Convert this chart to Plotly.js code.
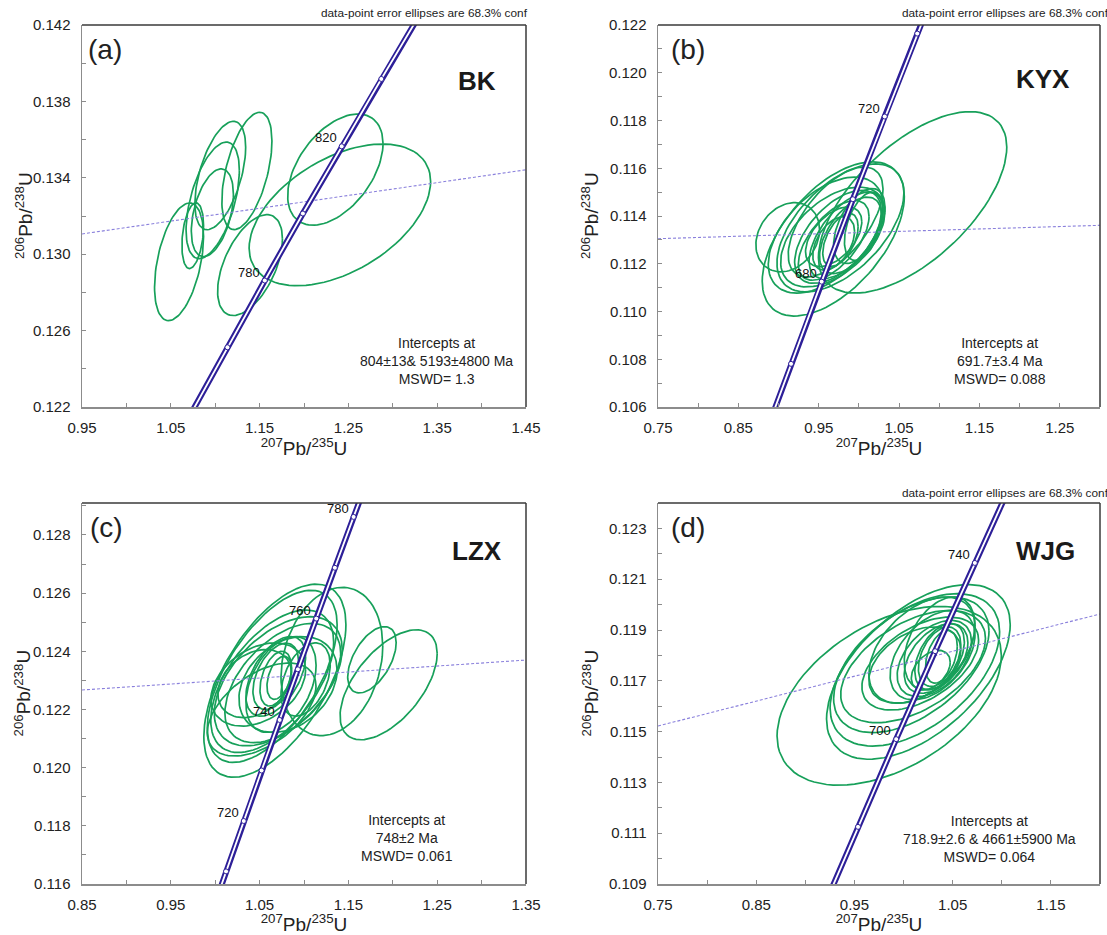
<!DOCTYPE html>
<html><head><meta charset="utf-8">
<script src="https://cdn.plot.ly/plotly-3.0.1.min.js"></script>
<style>html,body{margin:0;padding:0;background:#fff}#chart{width:1107px;height:935px}</style>
</head><body><div id="chart"></div><script>
// ---------- data ----------
// Panel (a) BK : error ellipses (centre, half-extent in x and y, correlation)
const aCX  = [1.0593, 1.0747, 1.0968, 1.0972, 1.1057, 1.1357, 1.1392, 1.2404, 1.2353];
const aCY  = [0.1296, 0.13097, 0.13217, 0.13282, 0.13412, 0.13436, 0.12943, 0.13206, 0.13443];
const aSX  = [0.0276, 0.0122, 0.0237, 0.0300, 0.0286, 0.0282, 0.0365, 0.1022, 0.0537];
const aSY  = [0.00308, 0.00172, 0.0023, 0.00305, 0.00284, 0.00307, 0.00264, 0.00371, 0.00291];
const aRho = [0.43, 0.30, 0.42, 0.51, 0.52, 0.51, 0.52, 0.47, 0.47];
// Panel (b) KYX
const bCX  = [1.0668, 0.9681, 0.9114, 0.977, 0.9587, 0.9675, 0.974, 0.984, 0.9895, 0.9686, 1.0005, 1.006, 0.9686, 0.9686, 0.971, 0.977];
const bCY  = [0.11457, 0.11304, 0.11311, 0.1135, 0.1132, 0.11312, 0.11313, 0.11319, 0.11319, 0.11298, 0.11358, 0.11357, 0.11313, 0.11285, 0.11375, 0.1130];
const bSX  = [0.1172, 0.0884, 0.0396, 0.079, 0.0715, 0.0649, 0.054, 0.046, 0.0385, 0.044, 0.032, 0.024, 0.035, 0.026, 0.059, 0.022];
const bSY  = [0.0038, 0.00323, 0.00145, 0.00268, 0.00243, 0.00209, 0.00195, 0.00181, 0.0016, 0.00167, 0.00157, 0.00143, 0.00125, 0.00112, 0.0023, 0.00111];
const bRho = [0.61, 0.55, 0.22, 0.55, 0.50, 0.50, 0.55, 0.60, 0.55, 0.60, 0.50, 0.45, 0.50, 0.45, 0.60, 0.50];
// Panel (c) LZX
const cCX  = [1.0672, 1.1314, 1.0642, 1.0642, 1.071, 1.0761, 1.0485, 1.0445, 1.0741, 1.0682, 1.0682, 1.0721, 1.0682, 1.082, 1.1018, 1.0523, 1.1765, 1.1953];
const cCY  = [0.12299, 0.12365, 0.12314, 0.12297, 0.12297, 0.12291, 0.12286, 0.12289, 0.12286, 0.12314, 0.12306, 0.12309, 0.12314, 0.12286, 0.12303, 0.1220, 0.12371, 0.12285];
const cSX  = [0.080, 0.0573, 0.0731, 0.0692, 0.072, 0.0652, 0.0533, 0.0415, 0.0395, 0.0257, 0.0178, 0.0138, 0.0336, 0.0553, 0.0277, 0.0612, 0.0273, 0.0547];
const cSY  = [0.00332, 0.00255, 0.00296, 0.00245, 0.00222, 0.00205, 0.00143, 0.00117, 0.00165, 0.00114, 0.00094, 0.00074, 0.00137, 0.00165, 0.00126, 0.0016, 0.00114, 0.00189];
const cRho = [0.58, 0.21, 0.60, 0.55, 0.50, 0.50, 0.35, 0.30, 0.40, 0.45, 0.40, 0.40, 0.50, 0.30, 0.40, 0.50, 0.52, 0.57];
// Panel (d) WJG
const dCX  = [0.9854, 1.0151, 1.0115, 1.0079, 1.0097, 1.017, 1.0187, 1.0295, 1.0313, 1.0331, 1.0367, 1.0367, 1.0385, 1.0367, 1.0115, 1.0277];
const dCY  = [0.11641, 0.11735, 0.11743, 0.11763, 0.11756, 0.11768, 0.11821, 0.11801, 0.11788, 0.11788, 0.11795, 0.11795, 0.11795, 0.11847, 0.11762, 0.11742];
const dSX  = [0.1142, 0.0935, 0.0863, 0.0791, 0.0737, 0.0594, 0.054, 0.0432, 0.0378, 0.0324, 0.0252, 0.0216, 0.0162, 0.036, 0.0468, 0.0198];
const dSY  = [0.00352, 0.00344, 0.0030, 0.00267, 0.00221, 0.00183, 0.00209, 0.00176, 0.0015, 0.00137, 0.0013, 0.00117, 0.00104, 0.00183, 0.0015, 0.00078];
const dRho = [0.45, 0.54, 0.50, 0.50, 0.50, 0.50, 0.45, 0.45, 0.45, 0.45, 0.45, 0.40, 0.40, 0.40, 0.40, 0.40];

// Concordia age marks (Ma) and the labelled ones
const aAges = [740, 760, 780, 800, 820, 840, 860];  const aLabels = [780, 820];
const bAges = [640, 660, 680, 700, 720, 740, 760];  const bLabels = [680, 720];
const cAges = [700, 710, 720, 730, 740, 750, 760, 770, 780, 790]; const cLabels = [720, 740, 760, 780];
const dAges = [660, 680, 700, 720, 740, 760];       const dLabels = [700, 740];

// Discordia line end values (at left/right axis limits)
const aDiscY = [0.13106, 0.13442];
const bDiscY = [0.11305, 0.11361];
const cDiscY = [0.12267, 0.12370];
const dDiscY = [0.11522, 0.11963];

// Axis ranges
const aXR = [0.95, 1.45], aYR = [0.122, 0.142];
const bXR = [0.75, 1.30], bYR = [0.106, 0.122];
const cXR = [0.85, 1.35], cYR = [0.116, 0.1291];
const dXR = [0.75, 1.20], dYR = [0.109, 0.124];

const panelNames = ['(a)', '(b)', '(c)', '(d)'];
const sampleNames = ['BK', 'KYX', 'LZX', 'WJG'];
const interceptTexts = [
  'Intercepts at<br>804\u00b113& 5193\u00b14800 Ma<br>MSWD= 1.3',
  'Intercepts at<br>691.7\u00b13.4 Ma<br>MSWD= 0.088',
  'Intercepts at<br>748\u00b12 Ma<br>MSWD= 0.061',
  'Intercepts at<br>718.9\u00b12.6 & 4661\u00b15900 Ma<br>MSWD= 0.064'
];
const confNote = 'data-point error ellipses are 68.3% conf';
const xTitle = '<sup>207</sup>Pb/<sup>235</sup>U';
const yTitle = '<sup>206</sup>Pb/<sup>238</sup>U';

// ---------- helpers ----------
const L238 = 1.55125e-4, L235 = 9.8485e-4; // decay constants per Ma
function concX(t){ return Math.expm1(L235 * t); }
function concY(t){ return Math.expm1(L238 * t); }

const GREEN = '#17a05a', BLUE = '#2d1f98', FONT = 'Liberation Sans, Arial, sans-serif';

function ellipse(cx, cy, sx, sy, r){
  const xs = [], ys = [], n = 90, k = Math.sqrt(1 - r*r);
  for (let i = 0; i <= n; i++){
    const t = 2*Math.PI*i/n, c = Math.cos(t), s = Math.sin(t);
    xs.push(cx + sx*c); ys.push(cy + sy*(r*c + k*s));
  }
  return [xs, ys];
}

const panels = [
  {cx:aCX, cy:aCY, sx:aSX, sy:aSY, r:aRho, ages:aAges, labels:aLabels, disc:aDiscY, xr:aXR, yr:aYR, xd:0.1, yd:0.004},
  {cx:bCX, cy:bCY, sx:bSX, sy:bSY, r:bRho, ages:bAges, labels:bLabels, disc:bDiscY, xr:bXR, yr:bYR, xd:0.1, yd:0.002},
  {cx:cCX, cy:cCY, sx:cSX, sy:cSY, r:cRho, ages:cAges, labels:cLabels, disc:cDiscY, xr:cXR, yr:cYR, xd:0.1, yd:0.002},
  {cx:dCX, cy:dCY, sx:dSX, sy:dSY, r:dRho, ages:dAges, labels:dLabels, disc:dDiscY, xr:dXR, yr:dYR, xd:0.1, yd:0.002}
];

const W = 1107, H = 935;
const px = [[82, 526], [658, 1100], [82, 526], [658, 1100]];
const py = [[25, 407], [25, 407], [503, 884], [503, 884]];
const panelLabelPos = [[105, 50], [688, 50], [106, 527], [688, 527]];
const samplePos = [[477, 81], [1043, 79], [477, 551], [1045, 551]];
const interceptPos = [[436, 361], [1000, 361], [407, 838], [989, 839]];
const notePos = [[530, 13], [1111, 13], null, [1111, 493]];
const yTitleX = [24, 590, 22, 590];

const traces = [], annotations = [], shapes = [];
const layout = {width: W, height: H, margin: {l:0, r:0, t:0, b:0}, showlegend: false,
  paper_bgcolor: '#fff', plot_bgcolor: '#fff', font: {family: FONT, color: '#222'}};

panels.forEach((p, i) => {
  const sfx = i === 0 ? '' : String(i + 1);
  const xa = 'x' + sfx, ya = 'y' + sfx;
  // ellipses
  p.cx.forEach((_, j) => {
    const [ex, ey] = ellipse(p.cx[j], p.cy[j], p.sx[j], p.sy[j], p.r[j]);
    traces.push({x: ex, y: ey, xaxis: xa, yaxis: ya, mode: 'lines', type: 'scatter',
      line: {color: GREEN, width: 1.7}, hoverinfo: 'skip'});
  });
  // discordia
  traces.push({x: p.xr, y: p.disc, xaxis: xa, yaxis: ya, mode: 'lines', type: 'scatter',
    line: {color: '#8a80dc', width: 1.1, dash: '3px,2px'}, hoverinfo: 'skip'});
  // concordia (double line)
  const cxs = p.ages.map(concX), cys = p.ages.map(concY);
  traces.push({x: cxs, y: cys, xaxis: xa, yaxis: ya, mode: 'lines', type: 'scatter',
    line: {color: BLUE, width: 6}, hoverinfo: 'skip'});
  traces.push({x: cxs, y: cys, xaxis: xa, yaxis: ya, mode: 'lines+markers', type: 'scatter',
    line: {color: '#fff', width: 1.8},
    marker: {symbol: 'circle', size: 5, color: '#fff', line: {color: BLUE, width: 1}}, hoverinfo: 'skip'});
  // age labels
  p.labels.forEach(a => annotations.push({x: concX(a), y: concY(a), xref: xa, yref: ya,
    text: String(a), showarrow: false, xanchor: 'right', yanchor: 'bottom', xshift: -3, yshift: -1,
    font: {size: 13, color: '#111', family: FONT}}));

  const xdom = [px[i][0]/W, px[i][1]/W];
  const ydom = [1 - py[i][1]/H, 1 - py[i][0]/H];
  const xKey = 'xaxis' + sfx, yKey = 'yaxis' + sfx;
  layout[xKey] = {domain: xdom, anchor: ya, range: p.xr, tick0: p.xr[0], dtick: p.xd,
    tickformat: '.2f', ticks: 'inside', ticklen: 4, tickcolor: '#8c8c8c', tickwidth: 1,
    minor: {ticks: 'inside', ticklen: 4, tickcolor: '#8c8c8c', dtick: p.xd/2, tick0: p.xr[0], showgrid: false},
    showline: true, linecolor: '#8c8c8c', linewidth: 1.5, showgrid: false, zeroline: false,
    ticklabelstandoff: 6, tickfont: {size: 15, color: '#222', family: FONT},
    title: {text: xTitle, font: {size: 19, color: '#222', family: FONT}, standoff: 6}};
  layout[yKey] = {domain: ydom, anchor: xa, range: p.yr, tick0: p.yr[0], dtick: p.yd,
    tickformat: '.3f', ticks: 'inside', ticklen: 4, tickcolor: '#8c8c8c', tickwidth: 1,
    minor: {ticks: 'inside', ticklen: 4, tickcolor: '#8c8c8c', dtick: p.yd/2, tick0: p.yr[0], showgrid: false},
    showline: true, linecolor: '#8c8c8c', linewidth: 1.5, showgrid: false, zeroline: false,
    ticklabelstandoff: 7, tickfont: {size: 15, color: '#222', family: FONT}};
  // y-axis title placed as rotated text
  annotations.push({xref: 'paper', yref: 'paper', x: yTitleX[i]/W, y: 1 - (py[i][0] + py[i][1])/2/H,
    text: yTitle, textangle: -90, showarrow: false, xanchor: 'center', yanchor: 'middle',
    font: {size: 19, color: '#222', family: FONT}});
  // top and right frame
  shapes.push({type: 'line', xref: xa + ' domain', yref: ya + ' domain', x0: 0, x1: 1, y0: 1, y1: 1,
    line: {color: '#3a3a3a', width: 1.5}});
  shapes.push({type: 'line', xref: xa + ' domain', yref: ya + ' domain', x0: 1, x1: 1, y0: 0, y1: 1,
    line: {color: '#3a3a3a', width: 1.5}});
  // texts
  annotations.push({xref: 'paper', yref: 'paper', x: panelLabelPos[i][0]/W, y: 1 - panelLabelPos[i][1]/H,
    text: panelNames[i], showarrow: false, xanchor: 'center', yanchor: 'middle',
    font: {size: 28, color: '#222', family: FONT}});
  annotations.push({xref: 'paper', yref: 'paper', x: samplePos[i][0]/W, y: 1 - samplePos[i][1]/H,
    text: '<b>' + sampleNames[i] + '</b>', showarrow: false, xanchor: 'center', yanchor: 'middle',
    font: {size: 26, color: '#1a1a1a', family: FONT}});
  annotations.push({xref: 'paper', yref: 'paper', x: interceptPos[i][0]/W, y: 1 - interceptPos[i][1]/H,
    text: interceptTexts[i], showarrow: false, xanchor: 'center', yanchor: 'middle', align: 'center',
    font: {size: 14, color: '#222', family: FONT}});
  if (notePos[i]) annotations.push({xref: 'paper', yref: 'paper', x: notePos[i][0]/W, y: 1 - notePos[i][1]/H,
    text: confNote, showarrow: false, xanchor: 'right', yanchor: 'middle',
    font: {size: 11.8, color: '#222', family: FONT}});
});
layout.annotations = annotations;
layout.shapes = shapes;

Plotly.newPlot('chart', traces, layout, {staticPlot: true, displayModeBar: false});
</script></body></html>
